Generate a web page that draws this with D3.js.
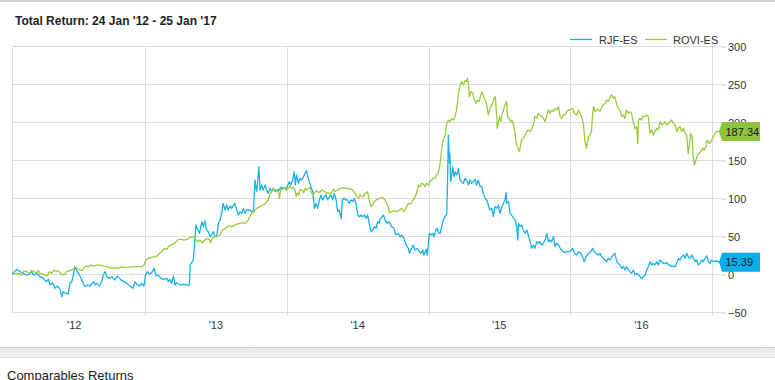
<!DOCTYPE html>
<html><head><meta charset="utf-8">
<script src="https://cdn.jsdelivr.net/npm/d3@7"></script>
<style>html,body{margin:0;padding:0;background:#fff;} svg{display:block;font-family:"Liberation Sans",Arial,sans-serif;}</style>
</head><body><svg id="chart" width="775" height="380"></svg>
<script>
// ---------- data ----------
const titleText = "Total Return: 24 Jan '12 - 25 Jan '17";
const footerText = "Comparables Returns";
const startDate = "2012-01-24";
const endDate = "2017-01-25";
const seriesNames = ["RJF-ES", "ROVI-ES"];
const seriesColors = ["#1ab0ec", "#9bcb3c"];
const labelColors = ["#0aaeea", "#8fc43a"];
const yTicks = [-50, 0, 50, 100, 150, 200, 250, 300];
const yearLabels = ["'12", "'13", "'14", "'15", "'16"];
const lastValues = [15.39, 187.34];
// [days since start, total return %]
const rjfSeries = [[0,0],[12,6.1],[21,3.1],[29,0.9],[38,-1.3],[46,0],[51,3.1],[55,-1.3],[64,0.9],[72,-3.5],[81,-5.7],[88,-10.1],[94,-7],[98,-14.5],[105,-11.4],[111,-18.9],[117,-15.8],[124,-20.2],[128,-29.8],[132,-23.2],[137,-25.4],[145,-26.3],[149,-12.3],[154,-10.1],[158,-1.3],[162,9.6],[167,4.4],[171,0.9],[175,-2.6],[182,-10.1],[188,-16.7],[194,-14.5],[201,-15.8],[210,-10.1],[214,-14.5],[218,-12.3],[225,-15.8],[231,-10.1],[235,-1.3],[240,3.1],[244,-3.5],[251,-5.7],[257,-3.5],[265,-7.9],[271,-2.6],[277,-5.7],[283,-8.8],[289,-10.1],[295,-12.3],[304,-15.8],[311,-18.9],[317,-10.1],[321,-13.2],[328,-15.8],[334,-12.3],[340,-15.8],[344,-1.3],[349,3.1],[354,0],[360,1.8],[366,7.5],[371,-2.6],[377,-1.3],[381,-4.4],[390,-7],[399,-5.7],[403,-10.1],[407,-7],[411,-12.3],[416,-2.6],[420,-14.5],[424,-11.4],[433,-14.5],[442,-13.2],[450,-14.5],[457,-14.5],
[459,11.8],[467,18.4],[474,64.5],[477,60.1],[483,53.5],[489,68.9],[493,62.3],[497,70.2],[501,57.9],[506,55.7],[510,49.1],[514,51.3],[519,55.7],[523,49.1],[527,49.1],[532,66.7],[536,71.1],[540,79.8],[544,93],[549,84.2],[553,90.8],[557,84.2],[562,89.5],[566,86.4],[570,89.5],[574,93],[579,84.2],[583,77.6],[587,82],[592,79.8],[596,86.4],[600,79.8],[604,84.2],[609,84.2],[613,84.2],[617,82],[622,84.2],[626,123.7],[630,108.3],[633,121.5],[636,141.2],[639,110.5],[643,117.1],[647,110.5],[652,117.1],[656,110.5],[660,106.1],[665,112.7],[669,108.3],[673,112.7],[678,108.3],[684,111.4],[689,110.5],[692,114],[697,112.7],[702,114],[706,110.5],[709,114.9],[714,121.5],[718,117.1],[723,123.7],[727,134.6],[730,117.1],[733,130.3],[738,119.3],[742,125.9],[746,123.7],[751,128.1],[755,132.5],[759,136],[763,125.9],[766,121.5],[770,114.9],[775,108.3],[779,86.4],[783,93],[787,86.4],[792,97.4],[796,103.9],[800,97.4],[805,101.8],[809,103.9],[813,97.4],[818,101.8],[822,103.9],[826,97.4],[830,106.1],[835,97.4],[839,82],[843,84.2],[848,73.2],[851,97.4],[855,99.6],[860,97.4],[864,97.4],[869,93],[873,97.4],[878,95.2],[882,99.6],[886,93],[891,77.6],[895,75.4],[899,77.6],[903,75.4],[908,77.6],[912,73.2],[916,77.6],[921,64.5],[925,55.7],[929,57.9],[934,62.3],[938,60.1],[942,68.9],[946,66.7],
[948,71.9],[957,77.6],[961,71.1],[967,66.7],[972,68.9],[978,62.3],[984,60.1],[989,51.3],[995,53.5],[1000,49.1],[1004,51.3],[1010,46.9],[1015,38.2],[1021,33.8],[1024,27.2],[1027,31.6],[1034,38.2],[1038,31.6],[1044,33.8],[1049,29.4],[1053,27.2],[1058,31.6],[1061,25],[1067,32.5],[1070,25],[1075,53.5],[1079,51.3],[1084,53.5],[1087,49.1],[1092,57.9],[1096,60.1],[1098,54.4],[1103,53.5],[1107,62.3],[1111,71.1],[1116,75.4],[1120,79.8],[1122,119.3],[1124,182.9],[1127,145.6],[1128,158.8],[1130,121.5],[1133,130.3],[1135,141.2],[1139,128.1],[1142,134.6],[1146,130.3],[1150,139],[1154,123.7],[1158,121.5],[1163,119.3],[1167,125.9],[1171,123.7],[1176,117.1],[1180,123.7],[1184,119.3],[1189,121.5],[1193,124.6],[1197,117.1],[1201,123.7],[1206,114.9],[1210,114.9],[1214,106.1],[1219,99.6],[1223,97.4],[1227,90.8],[1231,84.2],[1236,86.4],[1240,75.4],[1244,88.6],[1249,86.4],[1253,90.8],[1257,79.8],[1262,88.6],[1266,93],[1270,97.4],[1273,107],[1274,93],[1279,95.2],[1283,79.8],[1287,77.6],[1292,73.2],[1296,71.1],[1300,62.3],[1303,44.7],[1305,66.7],[1309,62.3],[1313,64.5],[1317,57.9],[1322,53.5],[1326,57.9],[1330,51.3],[1335,42.5],[1339,33.8],[1343,38.2],[1347,33.8],[1352,42.5],[1356,40.4],[1360,42.5],[1365,38.2],[1369,40.4],[1373,44.7],[1378,53.5],[1382,42.5],[1386,44.7],[1390,42.5],[1395,49.1],[1399,36],[1403,40.4],[1408,38.2],[1412,33.8],[1416,31.6],[1420,29.4],[1425,28.1],[1429,29.4],[1433,29.4],
[1437,29.4],[1444,33.8],[1449,27.2],[1455,25],[1459,29.4],[1465,27.2],[1470,22.8],[1474,16.2],[1479,22.8],[1485,27.2],[1491,29.4],[1496,33.8],[1499,29.4],[1504,27.2],[1510,25],[1515,27.2],[1519,22.8],[1523,20.6],[1528,18.4],[1532,16.2],[1536,20.6],[1541,18.4],[1545,22.8],[1549,25],[1553,27.2],[1558,16.2],[1562,14],[1566,11.8],[1571,7.5],[1575,9.6],[1579,5.3],[1583,9.6],[1588,5.3],[1592,3.1],[1596,0.9],[1601,5.3],[1605,-1.3],[1609,0.9],[1614,-1.3],[1618,-3.5],[1622,-6.6],[1626,-3.5],[1631,-1.3],[1635,5.3],[1639,9.6],[1644,16.2],[1648,11.8],[1652,14],[1656,11.8],[1661,16.2],[1665,11.8],[1669,18.4],[1674,16.2],[1678,14],[1682,14],[1687,14.9],[1691,11.8],[1695,11.8],[1699,9.6],[1704,10.5],[1708,9.6],[1712,14],[1717,20.6],[1721,18.4],[1725,22.8],[1730,25],[1734,20.6],[1738,27.2],[1742,22.8],[1747,20.6],[1751,25],[1755,20.6],[1760,16.2],[1764,18.4],[1768,11.8],[1772,14],[1777,18.4],[1781,16.2],[1785,20.6],[1790,23.7],[1794,16.2],[1798,14],[1802,18.4],[1807,16.2],[1814,17.1],[1828,15.39]];
const roviSeries = [[0,0],[12,0.9],[21,0],[25,-1.3],[31,4.4],[38,3.1],[46,0.9],[51,5.3],[55,3.1],[64,1.8],[68,4.4],[72,0.9],[79,0],[85,-1.3],[91,-2.6],[96,3.1],[102,0.9],[107,5.3],[113,3.1],[119,4.4],[125,0.9],[131,-1.3],[137,0.9],[141,3.1],[149,4.4],[156,6.1],[162,8.8],[168,7.5],[174,5.3],[180,4.4],[184,7.5],[191,10.5],[197,9.6],[203,11.8],[210,10.5],[218,11.8],[227,11.8],[235,10.5],[244,9.6],[251,8.8],[257,7.5],[265,8.8],[274,7.5],[283,9.6],[291,8.8],[300,8.8],[308,9.6],[317,9.6],[326,9.6],[334,9.6],[340,11.8],[345,18.4],[351,20.6],[360,21.9],[369,22.8],[375,23.7],[380,27.2],[386,29.4],[392,33.8],[399,32.5],[403,36],[409,38.2],[416,39.5],[423,42.5],[429,45.6],[437,45.6],[443,44.7],[450,45.6],[457,46.9],
[459,48.2],[467,49.1],[474,44.7],[480,42.5],[484,44.7],[491,41.2],[497,44.7],[503,46.9],[508,45.6],[512,41.2],[517,48.2],[523,49.1],[529,50],[536,51.3],[540,55.7],[544,57.9],[549,60.1],[555,62.3],[562,63.2],[568,62.3],[574,64.5],[580,65.8],[587,66.7],[594,67.5],[600,66.7],[604,68.9],[609,71.1],[613,76.3],[617,79.8],[622,80.7],[626,84.2],[630,86.4],[635,87.7],[641,89.5],[646,90.8],[652,92.1],[656,95.2],[660,97.4],[665,106.1],[669,108.3],[673,112.7],[678,110.5],[682,108.3],[686,109.6],[689,99.6],[692,110.5],[697,111.4],[703,114],[708,110.5],[712,112.7],[716,115.8],[721,112.7],[725,114],[729,110.5],[732,101.8],[735,107],[739,103.9],[742,110.5],[746,111.4],[751,107],[755,112.7],[759,110.5],[763,112.7],[768,114],[772,106.1],[776,103.9],[781,108.3],[785,109.6],[789,107],[794,108.3],[798,110.5],[802,109.6],[806,108.3],[811,106.1],[815,107],[819,105.3],[824,108.3],[828,111.4],[832,108.3],[836,109.6],[841,110.5],[845,112.7],[849,112.7],[854,113.6],[858,112.7],[862,112.7],[867,112.7],[871,111.4],[875,111.4],[879,109.6],[884,106.1],[888,101.8],[892,99.6],[897,103.9],[901,101.8],[905,101.8],[909,106.1],[914,107],[916,108.3],[921,95.2],[925,88.6],[929,90.8],[934,95.2],[938,97.4],[942,98.2],[946,99.6],
[948,99.6],[955,100.9],[961,97.4],[965,93],[969,88.6],[972,80.7],[978,82],[984,83.3],[991,82],[998,84.2],[1004,86.4],[1010,82],[1015,86.4],[1021,93],[1027,92.1],[1034,97.4],[1038,101.8],[1042,106.1],[1047,117.1],[1051,114.9],[1055,119.3],[1060,118.4],[1064,114.9],[1068,119.3],[1073,117.1],[1077,121.5],[1081,123.7],[1085,125.9],[1090,125.9],[1094,130.3],[1098,132.5],[1103,145.6],[1105,156.6],[1108,169.7],[1111,176.3],[1116,182.9],[1120,198.2],[1124,202.6],[1128,200.4],[1133,204.8],[1137,202.6],[1141,207],[1144,213.6],[1147,222.4],[1150,237.7],[1154,246.5],[1158,253.1],[1163,248.7],[1167,254.4],[1171,253.1],[1173,257.5],[1176,248.7],[1178,233.3],[1182,239.9],[1187,237.7],[1190,231.1],[1195,224.6],[1199,228.9],[1204,226.8],[1207,235.5],[1211,239.9],[1214,233.3],[1219,228.9],[1223,222.4],[1227,209.2],[1230,215.8],[1233,220.2],[1238,224.6],[1242,231.1],[1245,233.3],[1249,204.8],[1250,191.7],[1253,198.2],[1256,207],[1259,200.4],[1262,209.2],[1266,215.8],[1270,222.4],[1274,226.8],[1277,207],[1281,204.8],[1285,200.4],[1288,202.6],[1292,196.1],[1296,185.1],[1298,174.1],[1302,167.5],[1304,165.4],[1307,161],[1310,169.7],[1313,176.3],[1317,178.5],[1322,182.9],[1326,187.3],[1330,189.5],[1335,187.3],[1339,191.7],[1343,196.1],[1347,207],[1352,204.8],[1356,211.4],[1360,209.2],[1365,207],[1369,204.8],[1373,200.4],[1378,209.2],[1382,215.8],[1386,211.4],[1390,215.8],[1395,213.6],[1399,218],[1403,215.8],[1408,220.2],[1412,207],[1416,204.8],[1420,209.2],[1425,209.2],[1429,213.6],[1433,215.8],
[1437,215.8],[1444,218],[1449,211.4],[1455,209.2],[1459,215.8],[1463,211.4],[1467,207],[1472,198.2],[1476,174.1],[1480,165.4],[1485,180.7],[1489,182.9],[1493,189.5],[1496,211.4],[1498,220.2],[1502,213.6],[1506,215.8],[1510,216.7],[1515,213.6],[1519,220.2],[1523,222.4],[1528,224.6],[1532,228.9],[1536,226.8],[1541,233.3],[1545,235.5],[1549,231.1],[1553,233.3],[1558,222.4],[1562,218],[1566,215.8],[1571,207],[1575,209.2],[1579,204.8],[1583,215.8],[1588,211.4],[1592,213.6],[1596,211.4],[1601,198.2],[1605,191.7],[1609,193.9],[1612,171.9],[1614,202.6],[1618,204.8],[1622,202.6],[1626,207.9],[1631,207],[1635,209.2],[1639,207],[1644,185.1],[1648,189.5],[1652,182.9],[1656,187.3],[1661,191.7],[1665,189.5],[1669,200.4],[1674,196.1],[1678,198.2],[1682,200.4],[1687,196.1],[1691,198.2],[1695,200.4],[1699,202.6],[1704,198.2],[1708,196.1],[1712,187.3],[1717,191.7],[1721,193.9],[1725,187.3],[1730,191.7],[1734,185.1],[1738,182.9],[1742,158.8],[1745,169.7],[1748,185.1],[1752,180.7],[1755,154.4],[1758,143.4],[1762,150],[1766,156.6],[1771,158.8],[1774,161],[1779,165.4],[1783,163.2],[1788,167.5],[1791,176.3],[1796,171.9],[1800,174.1],[1805,178.5],[1809,182.9],[1814,187.3],[1828,187.34]];
const allSeries = [rjfSeries, roviSeries];

// ---------- chart ----------
const svg = d3.select("#chart");
const parseDate = d3.timeParse("%Y-%m-%d");
const t0 = parseDate(startDate), t1 = parseDate(endDate);
const plotLeft = 12, plotRight = 721.6, plotTop = 46, plotBottom = 312;
const x = d3.scaleTime().domain([t0, t1]).range([plotLeft, plotRight]);
const y = d3.scaleLinear().domain([-50, 300]).range([plotBottom, plotTop]);
const gridColor = "#dcdcdc";

svg.append("rect").attr("width", 775).attr("height", 380).attr("fill", "#fff");
svg.append("line").attr("x1", 0).attr("x2", 775).attr("y1", 1).attr("y2", 1)
  .attr("stroke", "#cfcfcf").attr("stroke-width", 2);

svg.append("text").attr("x", 15).attr("y", 25).attr("font-size", 12).attr("font-weight", "bold")
  .attr("fill", "#222").text(titleText);

// horizontal grid
svg.append("g").selectAll("line").data(yTicks).join("line")
  .attr("x1", plotLeft).attr("x2", 722).attr("y1", d => Math.round(y(d)) + 0.5).attr("y2", d => Math.round(y(d)) + 0.5)
  .attr("stroke", gridColor);
// vertical grid at year starts
const yearStarts = d3.timeYear.range(d3.timeYear.ceil(t0), t1);
svg.append("g").selectAll("line").data(yearStarts).join("line")
  .attr("x1", d => Math.round(x(d)) + 0.5).attr("x2", d => Math.round(x(d)) + 0.5)
  .attr("y1", plotTop).attr("y2", plotBottom + 4).attr("stroke", gridColor);
svg.append("line").attr("x1", plotLeft + 0.5).attr("x2", plotLeft + 0.5).attr("y1", plotTop).attr("y2", plotBottom + 0.5)
  .attr("stroke", gridColor);

// y axis (right)
const yAxis = svg.append("g").attr("transform", "translate(722,0.5)")
  .call(d3.axisRight(y).tickValues(yTicks).tickSize(4).tickPadding(2));
yAxis.select(".domain").remove();
yAxis.selectAll("line").attr("stroke", "#c8c8c8");
yAxis.selectAll("text").attr("font-size", 11).attr("fill", "#333").attr("font-family", "Liberation Sans, Arial, sans-serif");

// x labels at mid-year
const midYears = yearLabels.map((d, i) => new Date(2012 + i, 6, 1));
const xAxis = svg.append("g").attr("transform", `translate(0,${plotBottom})`)
  .call(d3.axisBottom(x).tickValues(midYears).tickFormat((d, i) => yearLabels[i]).tickSize(0).tickPadding(9));
xAxis.select(".domain").remove();
xAxis.selectAll("text").attr("font-size", 11).attr("fill", "#333").attr("font-family", "Liberation Sans, Arial, sans-serif");

// lines
const line = d3.line()
  .x(d => x(d3.timeDay.offset(t0, d[0])))
  .y(d => y(d[1]));
allSeries.forEach((s, i) => {
  svg.append("path").datum(s).attr("d", line).attr("fill", "none")
    .attr("stroke", seriesColors[i]).attr("stroke-width", 1.3).attr("stroke-linejoin", "round");
});

// legend
const legendPos = [[570, 599], [645, 673]];
seriesNames.forEach((n, i) => {
  svg.append("line").attr("x1", legendPos[i][0]).attr("x2", legendPos[i][0] + 22)
    .attr("y1", 39.5).attr("y2", 39.5).attr("stroke", seriesColors[i]).attr("stroke-width", 1.3);
  svg.append("text").attr("x", legendPos[i][1]).attr("y", 43.5).attr("font-size", 11).attr("fill", "#333").text(n);
});

// end value tags
lastValues.forEach((v, i) => {
  const cy = y(v);
  const g = svg.append("g");
  g.append("path").attr("d", `M722,${cy - 9.5}H760V${cy + 9.5}H722L719,${cy}Z`).attr("fill", labelColors[i]);
  g.append("text").attr("x", 725.5).attr("y", cy + 4).attr("font-size", 11).attr("fill", "#1a1a1a")
    .text(v.toFixed(2));
});

// bottom band and footer
const defs = svg.append("defs");
const grad = defs.append("linearGradient").attr("id", "band").attr("x1", 0).attr("x2", 0).attr("y1", 0).attr("y2", 1);
grad.append("stop").attr("offset", 0).attr("stop-color", "#e4e7ea");
grad.append("stop").attr("offset", 1).attr("stop-color", "#f1f3f4");
svg.append("rect").attr("x", 0).attr("y", 347).attr("width", 775).attr("height", 11).attr("fill", "url(#band)");
svg.append("line").attr("x1", 0).attr("x2", 775).attr("y1", 347.5).attr("y2", 347.5).attr("stroke", "#c9c9c9");
svg.append("line").attr("x1", 0).attr("x2", 775).attr("y1", 357.5).attr("y2", 357.5).attr("stroke", "#e2e2e2");
svg.append("text").attr("x", 7).attr("y", 380).attr("font-size", 13).attr("fill", "#222").text(footerText);
</script></body></html>
